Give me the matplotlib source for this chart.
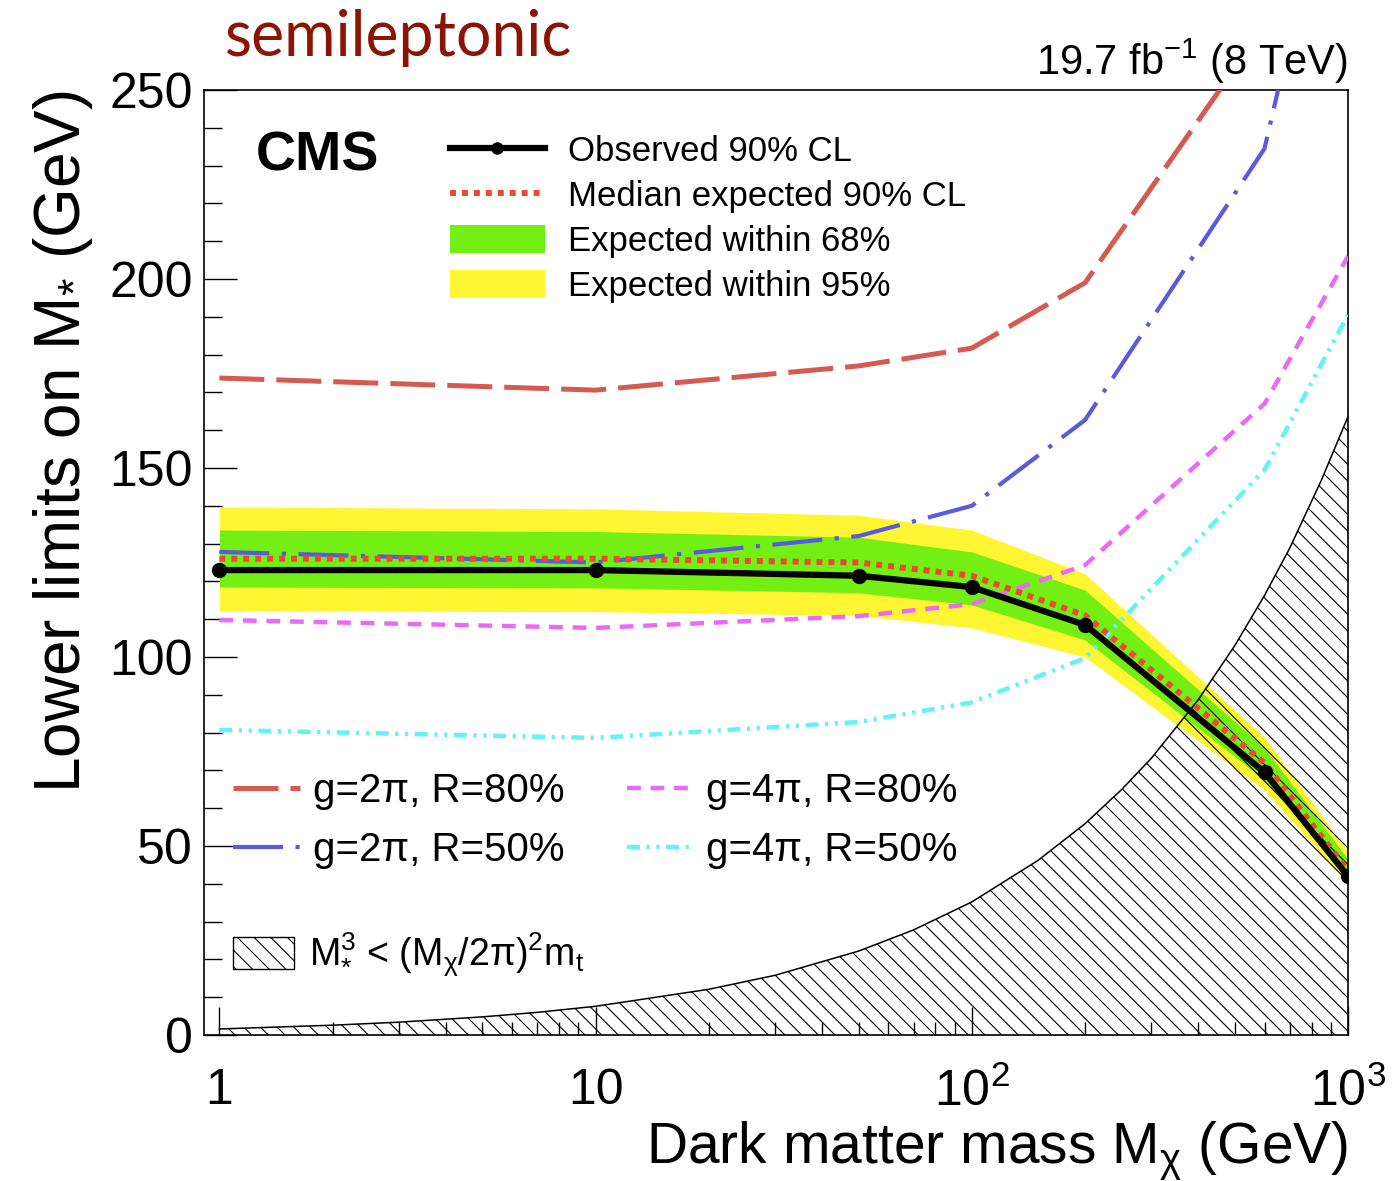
import numpy as np
import matplotlib
matplotlib.use("Agg")
import matplotlib.pyplot as plt
from matplotlib.lines import Line2D
from matplotlib.patches import Patch

plt.rcParams['font.family'] = ['Liberation Sans', 'DejaVu Sans']
plt.rcParams['mathtext.fontset'] = 'custom'
plt.rcParams['mathtext.rm'] = 'Liberation Sans'
plt.rcParams['mathtext.it'] = 'Liberation Sans:italic'
plt.rcParams['mathtext.bf'] = 'Liberation Sans:bold'
plt.rcParams['hatch.linewidth'] = 0.8

# dark matter mass points (GeV)
mchi = [1, 10, 50, 100, 200, 600, 1000]

# limits on M* (GeV)
obs = [123, 123, 121.5, 118.5, 108.5, 69.5, 42]
exp_med = [126, 126, 125, 121.5, 111, 72, 43.5]
exp68_lo = [118.5, 118.3, 117, 113.8, 104.5, 67.5, 41.5]
exp68_hi = [133.6, 133.2, 131.7, 127.8, 117.7, 76, 46.5]
exp95_lo = [112.2, 112, 111, 107.7, 100, 64.8, 40]
exp95_hi = [139.7, 139.2, 137.5, 133.6, 122, 78.8, 48.5]

# model curves
g2pi_r80 = [173.8, 170.6, 177, 181.7, 199, 267, 330]
g2pi_r50 = [127.8, 125, 132, 140, 162.7, 234.5, 330]
g4pi_r80 = [109.8, 107.7, 110.8, 114, 124.3, 167, 206]
g4pi_r50 = [80.7, 78.6, 82.8, 88, 99.7, 149.5, 190.5]

# excluded region boundary
hatch_x = [1, 2, 3, 5, 7, 10, 20, 30, 50, 70, 100, 150, 200, 250, 300, 400, 500, 600,
           700, 850, 1000]
hatch_y = [1.6, 2.6, 3.4, 4.8, 6.0, 7.6, 12.1, 15.8, 22.2, 27.8, 35.2, 46.2, 55.9,
           64.9, 73.2, 88.7, 103, 116.3, 128.8, 146.8, 163.6]

c_yellow = '#fff533'
c_green = '#74ef14'
c_red = '#d45a52'
c_blue = '#5a5ae0'
c_mag = '#ea6af5'
c_cyan = '#63f2f7'
c_med = '#ea4a33'

fig = plt.figure(figsize=(13.94, 11.81), dpi=100)
ax = fig.add_axes([0.1463, 0.1236, 0.8207, 0.8002])

ax.fill_between(mchi, exp95_lo, exp95_hi, color=c_yellow, lw=0, zorder=1)
ax.fill_between(mchi, exp68_lo, exp68_hi, color=c_green, lw=0, zorder=2)

ax.fill_between(hatch_x, 0, hatch_y, facecolor='none', edgecolor='black',
                hatch='\\\\', lw=0, zorder=3)
ax.plot(hatch_x, hatch_y, color='black', lw=1.1, zorder=3)

ax.plot(mchi, g2pi_r80, color=c_red, lw=3.6, ls=(0, (9, 2.4)), zorder=4)
ax.plot(mchi, g2pi_r50, color=c_blue, lw=3.0, ls=(0, (12, 3, 1, 3)), zorder=4)
ax.plot(mchi, g4pi_r80, color=c_mag, lw=3.2, ls=(0, (3.1, 2.2)), zorder=4)
ax.plot(mchi, g4pi_r50, color=c_cyan, lw=3.2,
        ls=(0, (2.9, 1.5, 0.7, 1.5, 0.7, 1.5)), zorder=4)

ax.plot(mchi, exp_med, color=c_med, lw=4.3, ls=(0, (1, 1)),
        dash_capstyle='butt', zorder=5)
ax.plot(mchi, obs, color='black', lw=4.5, marker='o', ms=10, zorder=6)

ax.set_xscale('log')
ax.set_xlim(0.91, 1000)
ax.set_ylim(0, 250)
ax.set_xticks([1, 10, 100, 1000])
ax.set_xticklabels(['1', '10', r'$10^{2}$', r'$10^{3}$'])
ax.set_yticks([0, 50, 100, 150, 200, 250])
ax.set_yticks(np.arange(0, 251, 10), minor=True)
ax.tick_params(axis='both', which='both', direction='in', top=False, right=False,
               width=1.0, labelsize=36)
ax.tick_params(axis='y', which='major', length=24, pad=8)
ax.tick_params(axis='y', which='minor', length=13)
ax.tick_params(axis='x', which='major', length=20, pad=24)
ax.tick_params(axis='x', which='minor', length=9.5)
for s in ax.spines.values():
    s.set_linewidth(1.2)

ax.set_ylabel(r'Lower limits on M$_{*}$ (GeV)', fontsize=46, loc='top', labelpad=10)
ax.set_xlabel(r'Dark matter mass M$_{\mathregular{χ}}$ (GeV)', fontsize=41, loc='right',
              labelpad=2)

ax.text(0.045, 0.93, 'CMS', transform=ax.transAxes, fontsize=40, fontweight='bold',
        ha='left', va='center')
ax.text(1.0, 1.004, r'19.7 fb$^{\mathregular{-1}}$ (8 TeV)', transform=ax.transAxes,
        fontsize=30, ha='right', va='bottom')
fig.text(225 / 1394, 1 - 38 / 1181, 'semileptonic', family=['Lato', 'DejaVu Sans'],
         fontsize=45, color='#8c1405', ha='left', va='center')

# top legend
h_top = [
    Line2D([], [], color='black', lw=4.5, marker='o', ms=8),
    Line2D([], [], color=c_med, lw=4.3, ls=(0, (1, 1)), dash_capstyle='butt'),
    Patch(facecolor=c_green, edgecolor='none'),
    Patch(facecolor=c_yellow, edgecolor='none'),
]
l_top = ['Observed 90% CL', 'Median expected 90% CL', 'Expected within 68%',
         'Expected within 95%']
leg1 = ax.legend(h_top, l_top, loc='upper left', bbox_to_anchor=(0.215, 0.952),
                 frameon=False, fontsize=25, handlelength=2.74, handleheight=0.85,
                 handletextpad=0.65, labelspacing=0.34, borderpad=0, borderaxespad=0,
                 numpoints=1)
ax.add_artist(leg1)

# model legend
h_mod = [
    Line2D([], [], color=c_red, lw=3.6, ls=(0, (9, 2.4))),
    Line2D([], [], color=c_blue, lw=3.0, ls=(0, (12, 3, 1, 3))),
    Line2D([], [], color=c_mag, lw=3.2, ls=(0, (3.1, 2.2))),
    Line2D([], [], color=c_cyan, lw=3.2, ls=(0, (2.9, 1.5, 0.7, 1.5, 0.7, 1.5))),
]
l_mod = ['g=2π, R=80%', 'g=2π, R=50%', 'g=4π, R=80%', 'g=4π, R=50%']
leg2 = ax.legend(h_mod, l_mod, loc='upper left', bbox_to_anchor=(0.0253, 0.278),
                 ncol=2, frameon=False, fontsize=29, handlelength=1.66,
                 handletextpad=0.32, labelspacing=0.52, columnspacing=1.55,
                 borderpad=0, borderaxespad=0)
ax.add_artist(leg2)

# excluded region legend
h_hat = [Patch(facecolor='white', edgecolor='black', hatch='\\\\', lw=1.0)]
l_hat = [r'M$^{3}_{*}$ < (M$_{\mathregular{χ}}$/2π)$^{2}$m$_{\mathregular{t}}$']
ax.legend(h_hat, l_hat, loc='upper left', bbox_to_anchor=(0.025, 0.11),
          frameon=False, fontsize=27, handlelength=1.65, handleheight=0.95,
          handletextpad=0.4, borderpad=0, borderaxespad=0)

fig.savefig('out.png', dpi=100)
